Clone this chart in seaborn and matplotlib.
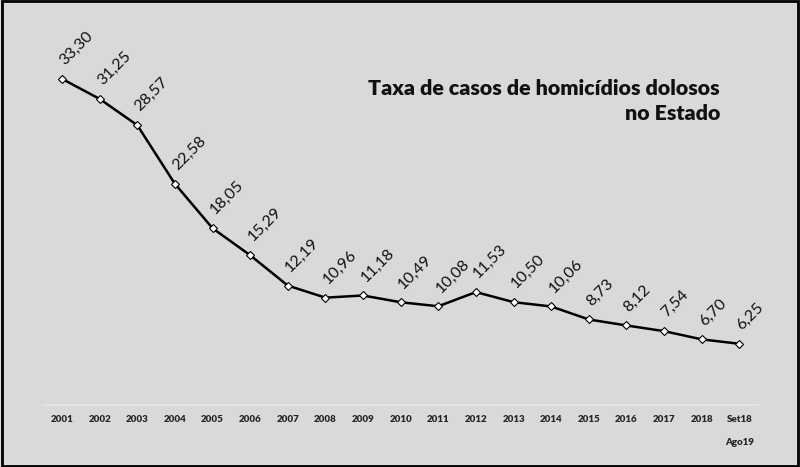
import numpy as np
import seaborn as sns
import matplotlib.pyplot as plt

# dados do gráfico
periodos = ['2001', '2002', '2003', '2004', '2005', '2006', '2007', '2008', '2009', '2010',
            '2011', '2012', '2013', '2014', '2015', '2016', '2017', '2018', 'Set18\n\nAgo19']
taxas = [33.30, 31.25, 28.57, 22.58, 18.05, 15.29, 12.19, 10.96, 11.18, 10.49,
         10.08, 11.53, 10.50, 10.06, 8.73, 8.12, 7.54, 6.70, 6.25]
titulo = 'Taxa de casos de homicídios dolosos\nno Estado'

sns.set_style("white")
plt.rcParams['font.family'] = ['Lato', 'DejaVu Sans']

bg = '#d9d9d9'
fig = plt.figure(figsize=(8, 4.67), dpi=100, facecolor=bg)
ax = fig.add_axes([0.054, 0.1328, 0.8937, 0.734])
ax.set_facecolor(bg)

x = np.arange(len(taxas))
sns.lineplot(x=x, y=taxas, ax=ax, color='black', linewidth=1.8,
             marker='D', markersize=4.5, markerfacecolor='white',
             markeredgecolor='black', markeredgewidth=0.8)

# rótulos de valor inclinados
for xi, v in zip(x, taxas):
    ax.annotate(f'{v:.2f}'.replace('.', ','), (xi, v), xytext=(3.5, 8),
                textcoords='offset points', rotation=45, rotation_mode='anchor',
                ha='left', va='bottom', fontsize=11.5, color='#111111')

ax.set_xlim(-0.5, len(taxas) - 0.5)
ax.set_ylim(0, 35)
ax.set_xticks(x)
ax.set_xticklabels(periodos, fontsize=7, fontweight='heavy', linespacing=1.35)
ax.tick_params(axis='x', length=0, pad=7)
ax.set_yticks([])

for side in ['top', 'right', 'left']:
    ax.spines[side].set_visible(False)
ax.spines['bottom'].set_color('#e6e6e6')
ax.spines['bottom'].set_linewidth(1.2)

fig.text(720 / 800, 1 - 79 / 467, titulo, ha='right', va='top',
         fontsize=15.4, fontweight='heavy', linespacing=1.38, color='#111111')

# borda preta da imagem
fig.patches.append(plt.Rectangle((0.002, 0.003), 0.996, 0.994, transform=fig.transFigure,
                                 fill=False, edgecolor='black', linewidth=2))

fig.savefig('out.png', dpi=100, facecolor=bg)
